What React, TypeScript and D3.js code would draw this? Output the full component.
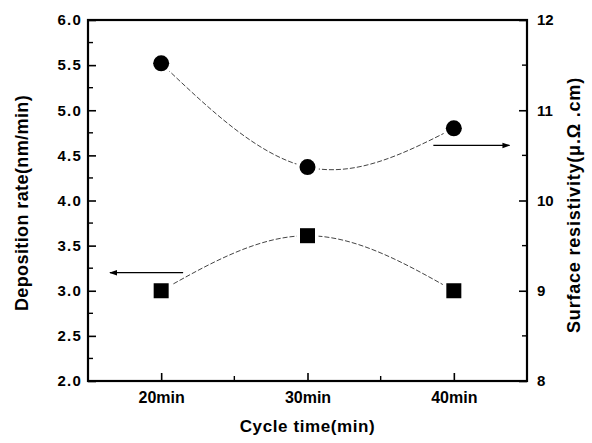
import React, { useEffect, useRef } from 'react'
import * as d3 from 'd3'

const width = 592
const height = 443
const margin = { top: 20, right: 65, bottom: 62, left: 88 }

// cycle time (min)
const cycles = [20, 30, 40]
const cycleLabels = ['20min', '30min', '40min']
// deposition rate (nm/min), left axis, squares
const depositionRate = [3.0, 3.61, 3.0]
// surface resistivity (uOhm.cm), right axis, circles
const resistivity = [11.52, 10.37, 10.8]

const leftTicks = [2.0, 2.5, 3.0, 3.5, 4.0, 4.5, 5.0, 5.5, 6.0]
const leftMinor = [2.25, 2.75, 3.25, 3.75, 4.25, 4.75, 5.25, 5.75]
const rightTicks = [8, 9, 10, 11, 12]
const rightMinor = [8.5, 9.5, 10.5, 11.5]
const bottomMinor = [25, 35]

// arrows pointing at the axis each series belongs to: [x1, x2, y]
const leftArrow = [21.5, 16.5, 3.2]
const rightArrow = [38.6, 43.8, 10.61]

const font = '"Liberation Sans", Arial, sans-serif'

const App = () => {
  const xAxis = useRef<SVGGElement>(null)
  const yLeft = useRef<SVGGElement>(null)
  const yRight = useRef<SVGGElement>(null)

  const x = d3.scaleLinear().domain([15, 45]).range([margin.left, width - margin.right])
  const yL = d3.scaleLinear().domain([2, 6]).range([height - margin.bottom, margin.top])
  const yR = d3.scaleLinear().domain([8, 12]).range([height - margin.bottom, margin.top])

  useEffect(() => {
    const style = (size: number, spacing: number) => (g: any) => {
      g.select('.domain').remove()
      g.selectAll('line').attr('stroke', '#000').attr('stroke-width', 1.6)
      g.selectAll('text')
        .attr('font-family', font)
        .attr('font-weight', 'bold')
        .attr('font-size', size)
        .attr('letter-spacing', spacing)
        .attr('fill', '#000')
    }
    d3.select(xAxis.current)
      .call(d3.axisBottom(x).tickValues(cycles).tickFormat((d, i) => cycleLabels[i])
        .tickSizeInner(-8).tickSizeOuter(0).tickPadding(11))
      .call(style(16, 0))
    d3.select(yLeft.current)
      .call(d3.axisLeft(yL).tickValues(leftTicks).tickFormat(d3.format('.1f'))
        .tickSizeInner(-8).tickSizeOuter(0).tickPadding(6))
      .call(style(15, 1.2))
    d3.select(yRight.current)
      .call(d3.axisRight(yR).tickValues(rightTicks).tickFormat(d3.format('d'))
        .tickSizeInner(-8).tickSizeOuter(0).tickPadding(10))
      .call(style(15, 0))
  }, [])

  const sq = cycles.map((c, i) => [x(c), yL(depositionRate[i])] as [number, number])
  const ci = cycles.map((c, i) => [x(c), yR(resistivity[i])] as [number, number])
  const line = d3.line().curve(d3.curveNatural)

  const x0 = x.range()[0], x1 = x.range()[1]
  const yb = yL.range()[0], yt = yL.range()[1]

  return (
    <svg width={width} height={height} style={{ position: 'absolute', left: 0, top: 0 }}>
      <defs>
        <marker id="ah" viewBox="0 0 10 10" refX="9" refY="5" markerWidth="6" markerHeight="6" orient="auto">
          <path d="M0,1.5 L10,5 L0,8.5 z" fill="#000" />
        </marker>
      </defs>
      <rect width={width} height={height} fill="#fff" />

      <path d={line(ci) || ''} fill="none" stroke="#444" strokeWidth={1} strokeDasharray="5,2" />
      <path d={line(sq) || ''} fill="none" stroke="#444" strokeWidth={1} strokeDasharray="5,2" />

      {ci.map((p, i) => (
        <circle key={'c' + i} cx={p[0]} cy={p[1]} r={8} fill="#000" stroke="#fff" strokeWidth={7} paintOrder="stroke" />
      ))}
      {sq.map((p, i) => (
        <rect key={'s' + i} x={p[0] - 7.5} y={p[1] - 7.5} width={15} height={15} fill="#000"
          stroke="#fff" strokeWidth={7} paintOrder="stroke" />
      ))}

      <line x1={x(leftArrow[0])} x2={x(leftArrow[1])} y1={yL(leftArrow[2])} y2={yL(leftArrow[2])}
        stroke="#000" strokeWidth={1.3} markerEnd="url(#ah)" />
      <line x1={x(rightArrow[0])} x2={x(rightArrow[1])} y1={yR(rightArrow[2])} y2={yR(rightArrow[2])}
        stroke="#000" strokeWidth={1.3} markerEnd="url(#ah)" />

      {leftMinor.map(v => (
        <line key={'lm' + v} x1={x0} x2={x0 + 5} y1={yL(v)} y2={yL(v)} stroke="#000" strokeWidth={1.4} />
      ))}
      {rightMinor.map(v => (
        <line key={'rm' + v} x1={x1} x2={x1 - 5} y1={yR(v)} y2={yR(v)} stroke="#000" strokeWidth={1.4} />
      ))}
      {bottomMinor.map(v => (
        <line key={'bm' + v} x1={x(v)} x2={x(v)} y1={yb} y2={yb - 5} stroke="#000" strokeWidth={1.4} />
      ))}

      <g ref={xAxis} transform={`translate(0, ${yb})`}></g>
      <g ref={yLeft} transform={`translate(${x0}, 0)`}></g>
      <g ref={yRight} transform={`translate(${x1}, 0)`}></g>

      <rect x={x0} y={yt} width={x1 - x0} height={yb - yt} fill="none" stroke="#000" strokeWidth={2.2} />

      <text x={(x0 + x1) / 2} y={432} textAnchor="middle" fontFamily={font} fontWeight="bold" fontSize={17}
        letterSpacing={0.6}>
        Cycle time(min)
      </text>
      <text transform={`translate(28, 203) rotate(-90)`} textAnchor="middle"
        fontFamily={font} fontWeight="bold" fontSize={18} letterSpacing={0.4}>
        Deposition rate(nm/min)
      </text>
      <text transform={`translate(580, 205) rotate(-90)`} textAnchor="middle"
        fontFamily={font} fontWeight="bold" fontSize={18} letterSpacing={0.8}>
        Surface resistivity(μ.Ω .cm)
      </text>
    </svg>
  )
}

export default App
